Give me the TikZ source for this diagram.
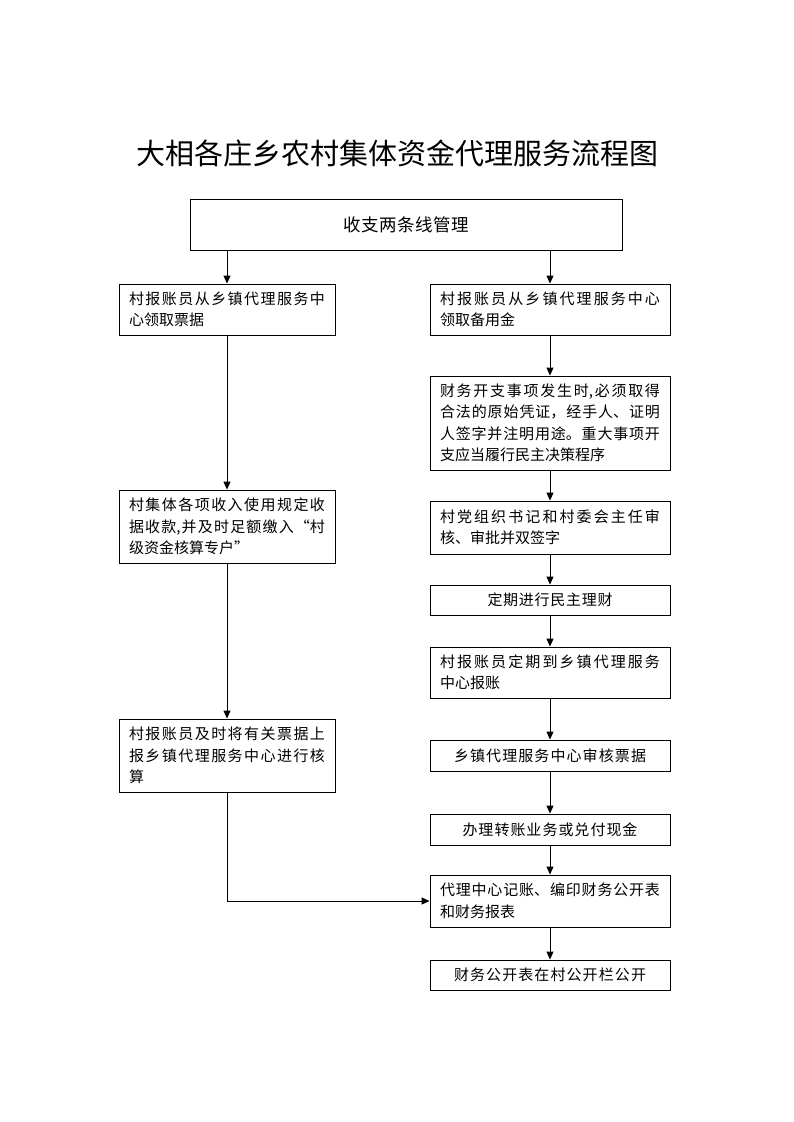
\documentclass[tikz,border=0pt]{standalone}
\usepackage{fontspec}
\newfontfamily\cjk{Noto Sans CJK SC}
\XeTeXlinebreaklocale "zh"
\XeTeXlinebreakskip=0pt plus 3pt
\usetikzlibrary{arrows.meta}
\newcommand\spreadto[2]{{\spaceskip=0pt plus 1fil\relax\makebox[#1][s]{#2}}}
\tikzset{
  box/.style={draw, line width=0.9pt, inner xsep=10pt, inner ysep=0pt,
    font=\cjk\fontsize{15}{21.5}\selectfont},
  lbox/.style={box, align=justify, minimum width=216pt, text width=196pt},
  rbox/.style={box, align=justify, minimum width=240pt, text width=220pt},
  cbox/.style={box, align=center, minimum width=240pt},
  arr/.style={line width=0.9pt, -{Triangle[width=7pt,length=8pt]}}
}
\begin{document}
\begin{tikzpicture}[x=1pt,y=-1pt]
\useasboundingbox[fill=white] (0,0) rectangle (793,1122);
\node[font=\cjk\fontsize{29}{35}\selectfont] (title) at (397,153) {大相各庄乡农村集体资金代理服务流程图};
\node[box, minimum width=432pt, minimum height=51pt, align=center,
  font=\cjk\fontsize{17.5}{21}\selectfont] (top) at (406,224.5) {\spreadto{126pt}{收 支 两 条 线 管 理}};
\node[lbox, minimum height=51pt] (L1) at (227,309.5) {村报账员从乡镇代理服务中\linebreak 心领取票据};
\node[lbox, minimum height=73pt] (L2) at (227,526.5) {村集体各项收入使用规定收\linebreak 据收款,并及时足额缴入“村\linebreak 级资金核算专户”};
\node[lbox, minimum height=73pt] (L3) at (227,755.5) {村报账员及时将有关票据上\linebreak 报乡镇代理服务中心进行核\linebreak 算};
\node[rbox, minimum height=51pt] (R1) at (550,309.5) {村报账员从乡镇代理服务中心\linebreak 领取备用金};
\node[rbox, minimum height=94pt] (R2) at (550,423) {财务开支事项发生时,必须取得\linebreak 合法的原始凭证，经手人、证明\linebreak 人签字并注明用途。重大事项开\linebreak 支应当履行民主决策程序};
\node[rbox, minimum height=53pt] (R3) at (550,527.5) {村党组织书记和村委会主任审\linebreak 核、审批并双签字};
\node[cbox, minimum height=30pt] (R4) at (550,600) {\spreadto{125pt}{定 期 进 行 民 主 理 财}};
\node[rbox, minimum height=51pt] (R5) at (550,672.5) {村报账员定期到乡镇代理服务\linebreak 中心报账};
\node[cbox, minimum height=31pt] (R6) at (550,755.5) {\spreadto{192pt}{乡 镇 代 理 服 务 中 心 审 核 票 据}};
\node[cbox, minimum height=31pt] (R7) at (550,829.5) {\spreadto{175pt}{办 理 转 账 业 务 或 兑 付 现 金}};
\node[rbox, minimum height=52pt] (R8) at (550,901) {代理中心记账、编印财务公开表\linebreak 和财务报表};
\node[cbox, minimum height=30pt] (R9) at (550,975) {\spreadto{192pt}{财 务 公 开 表 在 村 公 开 栏 公 开}};
\draw[arr] (top.south -| L1.north) -- (L1.north);
\draw[arr] (top.south -| R1.north) -- (R1.north);
\draw[arr] (L1) -- (L2);
\draw[arr] (L2) -- (L3);
\draw[arr] (L3.south) |- (R8.west);
\draw[arr] (R1) -- (R2);
\draw[arr] (R2) -- (R3);
\draw[arr] (R3) -- (R4);
\draw[arr] (R4) -- (R5);
\draw[arr] (R5) -- (R6);
\draw[arr] (R6) -- (R7);
\draw[arr] (R7) -- (R8);
\draw[arr] (R8) -- (R9);
\end{tikzpicture}
\end{document}
